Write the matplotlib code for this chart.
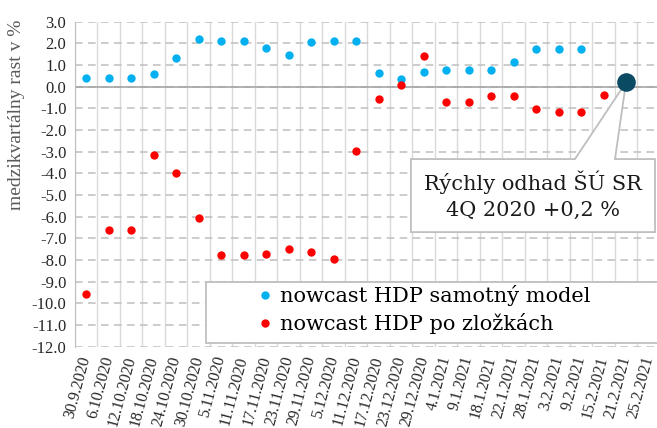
import matplotlib
matplotlib.use('Agg')
import matplotlib.pyplot as plt
import numpy as np
from matplotlib.patches import Rectangle, Polygon
from matplotlib.lines import Line2D
from matplotlib.ticker import FormatStrFormatter

plt.rcParams['font.family'] = ['Liberation Serif', 'DejaVu Serif']

dates = ["30.9.2020", "6.10.2020", "12.10.2020", "18.10.2020", "24.10.2020",
         "30.10.2020", "5.11.2020", "11.11.2020", "17.11.2020", "23.11.2020",
         "29.11.2020", "5.12.2020", "11.12.2020", "17.12.2020", "23.12.2020",
         "29.12.2020", "4.1.2021", "9.1.2021", "18.1.2021", "22.1.2021",
         "28.1.2021", "3.2.2021", "9.2.2021", "15.2.2021", "21.2.2021",
         "25.2.2021"]

nan = np.nan
model = [0.42, 0.42, 0.40, 0.57, 1.31, 2.19, 2.11, 2.11, 1.79, 1.48,
         2.06, 2.11, 2.11, 0.62, 0.36, 0.68, 0.77, 0.77, 0.77, 1.13,
         1.73, 1.73, 1.73, nan, nan, nan]
components = [-9.58, -6.63, -6.63, -3.15, -3.97, -6.04, -7.78, -7.78, -7.74, -7.49,
              -7.64, -7.94, -2.95, -0.57, 0.09, 1.40, -0.71, -0.69, -0.43, -0.43,
              -1.04, -1.18, -1.16, -0.40, nan, nan]
flash_date = "21.2.2021"
flash_value = 0.2

label_model = "nowcast HDP samotný model"
label_comp = "nowcast HDP po zložkách"
callout_text = "Rýchly odhad ŠÚ SR\n4Q 2020 +0,2 %"
ylabel = "medzikvartálny rast v %"

W, H = 657, 428
fig = plt.figure(figsize=(W / 100, H / 100), dpi=100)
ax = fig.add_axes([74.75 / W, 1 - 346.7 / H, 585 / W, 325 / H])

x = np.arange(len(dates))
ax.set_xlim(-0.5, len(dates) - 0.5)
ax.set_ylim(-12, 3)

ax.set_yticks(np.arange(-12, 3.01, 1))
ax.yaxis.set_major_formatter(FormatStrFormatter('%.1f'))
ax.set_xticks(x)
ax.set_xticklabels(dates, rotation=75, ha='right', rotation_mode='anchor', va='center')
ax.set_xticks(np.arange(-0.5, len(dates), 1), minor=True)
ax.tick_params(axis='both', which='both', length=0)
ax.tick_params(axis='y', labelsize=12, labelcolor='#262626', pad=6)
ax.tick_params(axis='x', labelsize=11.5, labelcolor='#262626', pad=7)

ax.grid(axis='x', which='minor', color='#d9d9d9', lw=1, ls='-')
ax.grid(axis='y', which='major', color='#bfbfbf', lw=1.1, ls=(0, (5, 3.5)))
ax.set_axisbelow(True)
for s in ['top', 'right', 'bottom']:
    ax.spines[s].set_visible(False)
ax.spines['left'].set_color('#bfbfbf')
ax.axhline(0, color='#a6a6a6', lw=1.2, zorder=1)

ax.scatter(x, model, s=36, color='#00b0f0', zorder=3, linewidths=0)
ax.scatter(x, components, s=36, color='#ff0000', zorder=3, linewidths=0)

fi = dates.index(flash_date)
# callout
bx0, bx1, by0, by1 = 14.44, 25.29, -6.71, -3.34
wl, wr = 21.73, 23.51
poly = Polygon([(bx0, by1), (wl, by1), (fi, flash_value), (wr, by1), (bx1, by1),
                (bx1, by0), (bx0, by0)], closed=True, fc='white', ec='#bfbfbf',
               lw=1.3, zorder=4)
ax.add_patch(poly)
ax.text((bx0 + bx1) / 2, (by0 + by1) / 2 + 0.02, callout_text, ha='center', va='center',
        fontsize=15, linespacing=1.45, zorder=6, color='#1a1a1a',
        family=['DejaVu Serif'])
ax.scatter([fi], [flash_value], s=180, color='#0a4a62', zorder=5, linewidths=0)

# legend
rect = Rectangle((206 / W, 1 - 343 / H), 470 / W, 61 / H, transform=fig.transFigure,
                 fc='white', ec='#bfbfbf', lw=1.3, zorder=3)
fig.add_artist(rect)
handles = [Line2D([], [], marker='o', ls='', color='#00b0f0', markersize=6, markeredgewidth=0),
           Line2D([], [], marker='o', ls='', color='#ff0000', markersize=6, markeredgewidth=0)]
leg = fig.legend(handles, [label_model, label_comp], loc='upper left',
                 bbox_to_anchor=(257 / W, 1 - 285 / H), frameon=False,
                 prop={'family': 'DejaVu Serif', 'size': 15},
                 handlelength=0.8, handletextpad=0.3, borderpad=0, labelspacing=0.35,
                 borderaxespad=0)
leg.set_zorder(6)

fig.text(17 / W, 1 - 20 / H, ylabel, rotation=90, ha='center', va='top',
         color='#595959', fontsize=14)

fig.savefig('out.png', dpi=100)
